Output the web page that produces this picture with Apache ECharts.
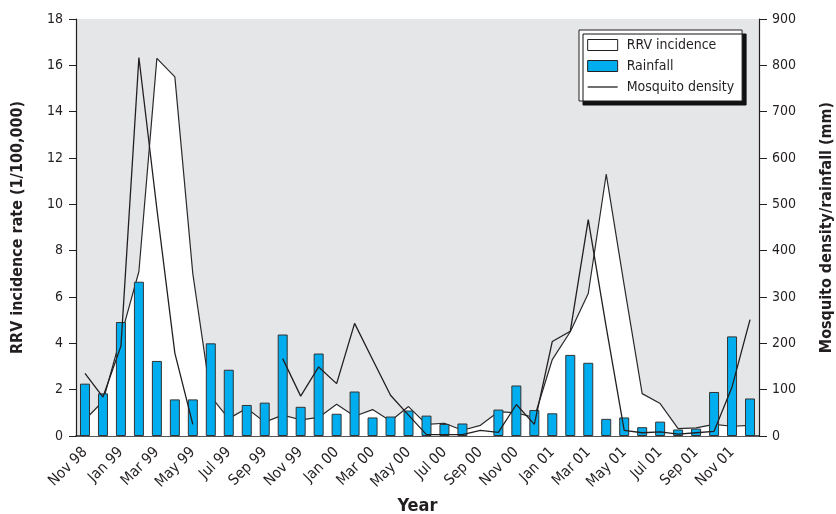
<!DOCTYPE html>
<html>
<head>
<meta charset="utf-8">
<script src="https://cdn.jsdelivr.net/npm/echarts@6/dist/echarts.min.js"></script>
<style>html,body{margin:0;padding:0;background:#fff}#c{width:836px;height:514px}</style>
</head>
<body>
<div id="c"></div>
<script>
var categories = ['Nov 98','Dec 98','Jan 99','Feb 99','Mar 99','Apr 99','May 99','Jun 99','Jul 99','Aug 99','Sep 99','Oct 99',
  'Nov 99','Dec 99','Jan 00','Feb 00','Mar 00','Apr 00','May 00','Jun 00','Jul 00','Aug 00','Sep 00','Oct 00',
  'Nov 00','Dec 00','Jan 01','Feb 01','Mar 01','Apr 01','May 01','Jun 01','Jul 01','Aug 01','Sep 01','Oct 01','Nov 01','Dec 01'];
var rrvIncidence = [0.7, 1.5, 4.3, 7.1, 16.3, 15.5, 7.0, 1.7, 0.75, 1.2, 0.6, 0.9, 0.7, 0.8, 1.37, 0.85, 1.14, 0.65, 1.27, 0.5, 0.55, 0.25, 0.46, 1.05,
  1.0, 0.8, 3.3, 4.5, 6.15, 11.3, 6.5, 1.83, 1.4, 0.32, 0.35, 0.5, 0.42, 0.46];
var rainfall = [113, 92, 246, 333, 162, 79, 79, 200, 143, 67, 72, 219, 63, 178, 48, 96, 40, 42, 55, 44, 26, 27, null, 57,
  109, 56, 49, 175, 158, 37, 40, 19, 31, 14, 16, 95, 215, 81];
var mosquito = [135, 84, 194, 817, 490, 179, 25, null, null, null, null, 167, 86, 149, 113, 243, 165, 88, 45, 3, 3, 3, 12, 8,
  68, 25, 204, 226, 467, 235, 12, 7, 9, 4, 7, 10, 106, 251];
var leftTicks = {min: 0, max: 18, interval: 2};
var rightTicks = {min: 0, max: 900, interval: 100};

var FONT = '"DejaVu Sans Condensed", "Liberation Sans", sans-serif';
var INK = '#231f20';
var chart = echarts.init(document.getElementById('c'), null, {renderer: 'canvas'});
chart.setOption({
  animation: false,
  textStyle: {fontFamily: FONT, color: INK},
  grid: {left: 76, right: 77, top: 19, bottom: 78, show: true, backgroundColor: '#e5e6e8', borderWidth: 0,
    containLabel: false, outerBoundsMode: 'none'},
  legend: {
    orient: 'vertical', left: 579, top: 30,
    backgroundColor: '#fff', borderColor: INK, borderWidth: 1,
    shadowColor: '#111', shadowOffsetX: 4, shadowOffsetY: 4, shadowBlur: 0,
    padding: [8, 8, 7, 8], itemGap: 7, itemWidth: 30, itemHeight: 11,
    textStyle: {fontFamily: FONT, fontSize: 14, color: INK, padding: [0, 0, 0, 4]},
    data: [
      {name: 'RRV incidence', icon: 'rect', itemStyle: {color: '#fff', borderColor: INK, borderWidth: 1}},
      {name: 'Rainfall', icon: 'rect', itemStyle: {color: '#00aeef', borderColor: INK, borderWidth: 1}},
      {name: 'Mosquito density', itemStyle: {opacity: 0}, lineStyle: {color: INK, width: 1.3}}
    ]
  },
  xAxis: {
    type: 'category', data: categories, boundaryGap: true,
    name: 'Year', nameLocation: 'middle', nameGap: 61,
    nameTextStyle: {fontFamily: FONT, fontSize: 18, fontWeight: 'bold', color: INK},
    axisLine: {lineStyle: {color: INK, width: 1.5}},
    axisTick: {show: false},
    axisLabel: {interval: 1, rotate: 45, fontSize: 15, color: INK, margin: 14, fontFamily: FONT}
  },
  yAxis: [{
    type: 'value', min: leftTicks.min, max: leftTicks.max, interval: leftTicks.interval,
    name: 'RRV incidence rate (1/100,000)', nameLocation: 'middle', nameGap: 50, nameRotate: 90,
    nameTextStyle: {fontFamily: FONT, fontSize: 16, fontWeight: 'bold', color: INK},
    axisLine: {show: true, lineStyle: {color: INK, width: 1.2}},
    axisTick: {show: true, length: 7, lineStyle: {color: INK}},
    splitLine: {show: false},
    axisLabel: {fontSize: 14, color: INK, margin: 13, fontFamily: FONT}
  }, {
    type: 'value', min: rightTicks.min, max: rightTicks.max, interval: rightTicks.interval,
    position: 'right',
    name: 'Mosquito density/rainfall (mm)', nameLocation: 'middle', nameGap: 60, nameRotate: 90,
    nameTextStyle: {fontFamily: FONT, fontSize: 16, fontWeight: 'bold', color: INK},
    axisLine: {show: true, lineStyle: {color: INK, width: 1.2}},
    axisTick: {show: true, length: 8, lineStyle: {color: INK}},
    splitLine: {show: false},
    axisLabel: {fontSize: 14, color: INK, margin: 13, fontFamily: FONT}
  }],
  series: [{
    name: 'RRV incidence', type: 'line', yAxisIndex: 0, data: rrvIncidence,
    symbol: 'none', z: 1,
    lineStyle: {color: '#2a2a2a', width: 1.2},
    itemStyle: {color: '#fff', borderColor: INK},
    areaStyle: {color: '#fff', opacity: 1}
  }, {
    name: 'Rainfall', type: 'bar', yAxisIndex: 1, data: rainfall, barWidth: 10, z: 2,
    itemStyle: {color: '#00aeef', borderColor: '#333', borderWidth: 1}
  }, {
    name: 'Mosquito density', type: 'line', yAxisIndex: 1, data: mosquito,
    symbol: 'none', connectNulls: false, z: 3,
    lineStyle: {color: INK, width: 1.3},
    itemStyle: {color: INK}
  }]
});
</script>
</body>
</html>
